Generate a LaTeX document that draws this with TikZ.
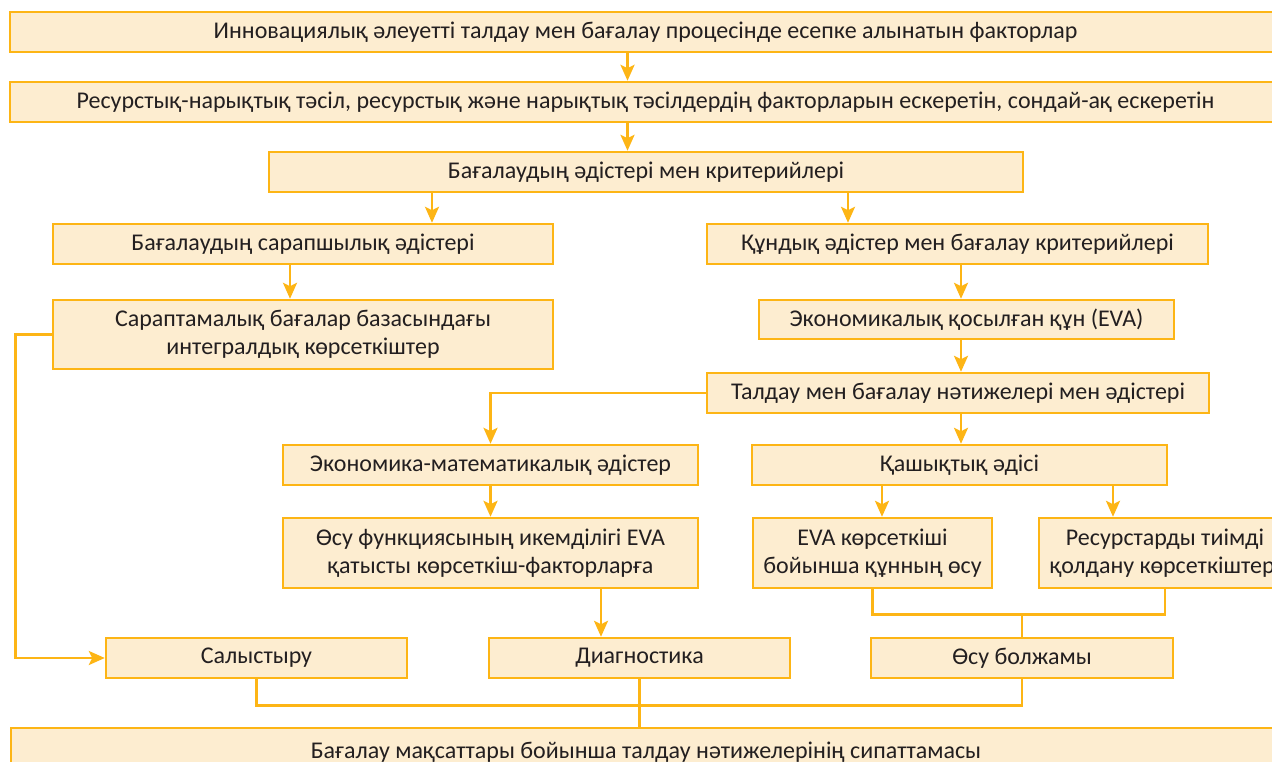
\documentclass[tikz,border=0pt]{standalone}
\usepackage{fontspec}
\setmainfont{Carlito}
\usetikzlibrary{arrows.meta,calc}
\definecolor{boxline}{HTML}{FDB515}
\definecolor{boxfill}{HTML}{FDEDD0}
\definecolor{txt}{HTML}{231F20}

\begin{document}
\begin{tikzpicture}[x=1pt,y=-1pt,
  box/.style={draw=boxline,fill=boxfill,line width=2.4pt,text=txt,align=center,inner sep=0pt,minimum height=40},
  conn/.style={draw=boxline,line width=2.8pt},
  arr/.style={conn,-{Stealth[length=16pt,width=14pt,inset=3.5pt]}},
  font=\fontsize{24}{28}\selectfont]
\useasboundingbox (0,0) rectangle (1272,762);
\clip (0,0) rectangle (1272,762);

\node[box,minimum width=1271] (factors) at (645.5,32) {Инновациялық әлеуетті талдау мен бағалау процесінде есепке алынатын факторлар};
\node[box,minimum width=1271] (approach) at (645.5,102) {Ресурстық-нарықтық тәсіл, ресурстық және нарықтық тәсілдердің факторларын ескеретін, сондай-ақ ескеретін};
\node[box,minimum width=754] (methods) at (646,172) {Бағалаудың әдістері мен критерийлері};
\node[box,minimum width=500] (expert) at (303,244) {Бағалаудың сарапшылық әдістері};
\node[box,minimum width=501] (value) at (957.5,244) {Құндық әдістер мен бағалау критерийлері};
\node[box,minimum width=500,minimum height=69] (integral) at (303,334.5) {Сараптамалық бағалар базасындағы\\интегралдық көрсеткіштер};
\node[box,minimum width=415,minimum height=39] (eva) at (966.5,319.5) {Экономикалық қосылған құн (EVA)};
\node[box,minimum width=502] (results) at (958,393) {Талдау мен бағалау нәтижелері мен әдістері};
\node[box,minimum width=415] (econ) at (490.5,465) {Экономика-математикалық әдістер};
\node[box,minimum width=415] (distance) at (959.5,465) {Қашықтық әдісі};
\node[box,minimum width=415,minimum height=70] (elastic) at (490.5,553) {Өсу функциясының икемділігі EVA\\қатысты көрсеткіш-факторларға};
\node[box,minimum width=239,minimum height=70] (evagrow) at (872.5,553) {EVA көрсеткіші\\бойынша құнның өсу};
\node[box,minimum width=252,minimum height=70] (resuse) at (1165,553) {Ресурстарды тиімді\\қолдану көрсеткіштері};
\node[box,minimum width=301] (compare) at (256.5,658) {Салыстыру};
\node[box,minimum width=301] (diagnos) at (639.5,658) {Диагностика};
\node[box,minimum width=302] (forecast) at (1022,658) {Өсу болжамы};
\node[box,minimum width=1270,minimum height=48] (summary) at (646,752) {Бағалау мақсаттары бойынша талдау нәтижелерінің сипаттамасы};

\coordinate (a1) at ($(factors.south)+(-18,0)$);
\draw[arr] (a1) -- (a1 |- approach.north);
\coordinate (a2) at ($(approach.south)+(-18,0)$);
\draw[arr] (a2) -- (a2 |- methods.north);
\coordinate (a3) at ($(methods.south)+(-214,0)$);
\draw[arr] (a3) -- (a3 |- expert.north);
\coordinate (a4) at ($(methods.south)+(202,0)$);
\draw[arr] (a4) -- (a4 |- value.north);
\coordinate (a5) at ($(expert.south)+(-13,0)$);
\draw[arr] (a5) -- (a5 |- integral.north);
\coordinate (a6) at ($(value.south)+(3.5,0)$);
\draw[arr] (a6) -- (a6 |- eva.north);
\draw[arr] (a6 |- eva.south) -- (a6 |- results.north);
\draw[arr] (results.west) -| (econ.north);
\draw[arr] (a6 |- results.south) -- (a6 |- distance.north);
\draw[arr] (econ.south) -- (elastic.north);
\coordinate (a7) at ($(distance.south)+(-77.5,0)$);
\draw[arr] (a7) -- (a7 |- evagrow.north);
\coordinate (a8) at ($(distance.south)+(153.5,0)$);
\draw[arr] (a8) -- (a8 |- resuse.north);
\coordinate (j1) at ($(evagrow.south)+(0,25)$);
\draw[conn] (evagrow.south) -- (j1) -| (resuse.south);
\draw[conn] (forecast.north) -- (forecast.north |- j1);
\coordinate (a9) at ($(elastic.south)+(110.5,0)$);
\draw[arr] (a9) -- (a9 |- diagnos.north);
\coordinate (l1) at ($(integral.west)+(-36,0)$);
\draw[arr] (integral.west) -- (l1) |- (compare.west);
\coordinate (j2) at ($(compare.south)+(0,26)$);
\draw[conn] (compare.south) -- (j2) -| (forecast.south);
\draw[conn] (diagnos.south) -- (diagnos.south |- summary.north);
\end{tikzpicture}
\end{document}
